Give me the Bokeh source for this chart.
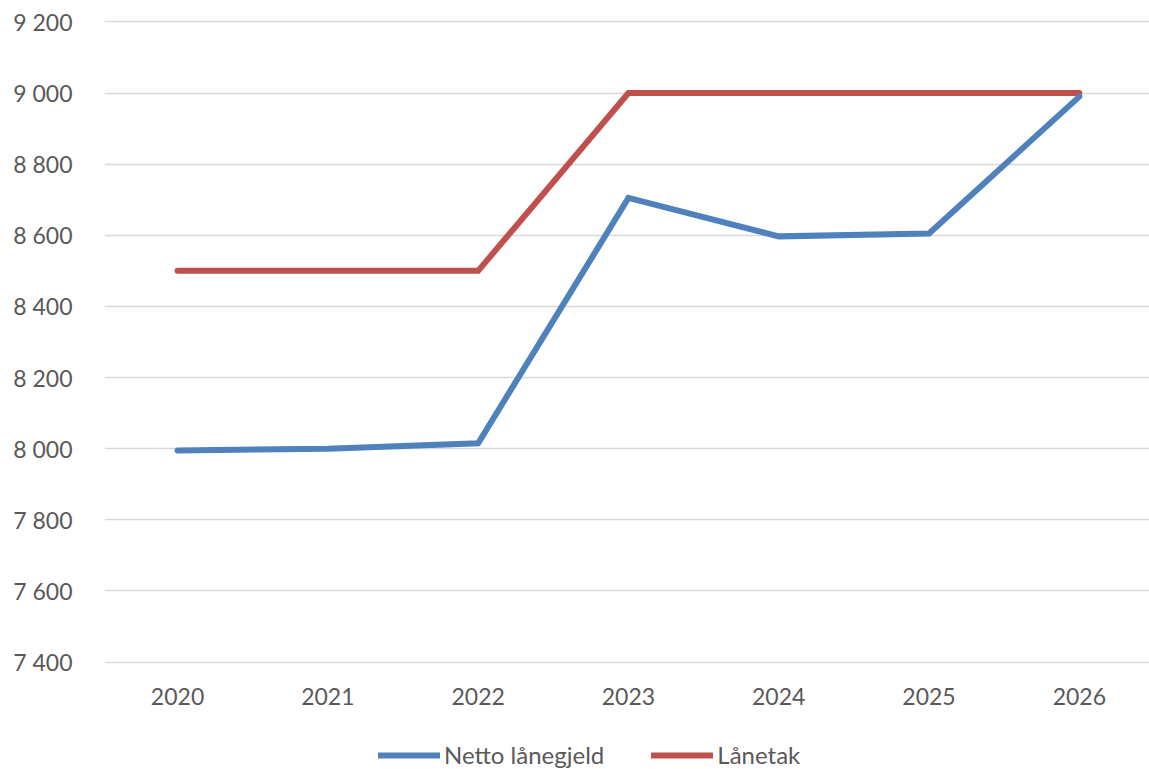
from bokeh.plotting import figure
from bokeh.layouts import column
from bokeh.models import Range1d, FixedTicker, Legend, LegendItem, ColumnDataSource
from bokeh.embed import file_html
from bokeh.resources import INLINE

# Series data
years = ["2020", "2021", "2022", "2023", "2024", "2025", "2026"]
netto_lanegjeld = [7995, 8000, 8015, 8705, 8597, 8605, 8990]
lanetak = [8500, 8500, 8500, 9000, 9000, 9000, 9000]
series_names = ["Netto lånegjeld", "Lånetak"]

# Value-axis ticks and their labels (space as thousands separator)
y_ticks = [7400, 7600, 7800, 8000, 8200, 8400, 8600, 8800, 9000, 9200]
y_tick_labels = ["7 400", "7 600", "7 800", "8 000", "8 200", "8 400", "8 600", "8 800", "9 000", "9 200"]

FONT = "Lato"
TEXT_COLOR = "#595959"
BLUE = "#4f81bd"
RED = "#c0504d"

xs = list(range(len(years)))
src = ColumnDataSource(dict(x=xs, netto=netto_lanegjeld, tak=lanetak))

p = figure(
    width=1149, height=716,
    x_range=Range1d(-0.486, 6.467), y_range=Range1d(7396, 9204),
    output_backend="svg", toolbar_location=None,
    min_border_left=104, min_border_right=0, min_border_top=20, min_border_bottom=53,
)
p.outline_line_color = None
p.background_fill_color = "white"
p.border_fill_color = "white"

# Gridlines
p.xgrid.grid_line_color = None
p.ygrid.grid_line_color = "#d9d9d9"
p.ygrid.grid_line_width = 1.5
p.ygrid.ticker = FixedTicker(ticks=y_ticks)

# Axes
p.yaxis.ticker = FixedTicker(ticks=y_ticks)
p.yaxis.major_label_overrides = {t: lab for t, lab in zip(y_ticks, y_tick_labels)}
p.xaxis.ticker = FixedTicker(ticks=xs)
p.xaxis.major_label_overrides = {i: y for i, y in zip(xs, years)}
for ax in (p.xaxis, p.yaxis):
    ax.axis_line_color = None
    ax.major_tick_line_color = None
    ax.minor_tick_line_color = None
    ax.major_tick_out = 0
    ax.major_tick_in = 0
    ax.minor_tick_out = 0
    ax.major_label_text_font = FONT
    ax.major_label_text_font_size = "23px"
    ax.major_label_text_color = TEXT_COLOR
p.yaxis.major_label_standoff = 32
p.xaxis.major_label_standoff = 24

# Lines
p.line("x", "tak", source=src, line_color=RED, line_width=6,
       line_cap="round", line_join="miter")
p.line("x", "netto", source=src, line_color=BLUE, line_width=6,
       line_cap="round", line_join="miter")

# Legend strip under the chart; its series lie outside the strip's view,
# so only the legend swatches show
leg_fig = figure(
    width=1149, height=53, x_range=Range1d(0, 1), y_range=Range1d(0, 1),
    x_axis_type=None, y_axis_type=None,
    output_backend="svg", toolbar_location=None,
    min_border=0,
)
leg_fig.outline_line_color = None
leg_fig.grid.visible = False
leg_blue = leg_fig.line("x", "netto", source=src, line_color=BLUE, line_width=6, line_cap="round")
leg_red = leg_fig.line("x", "tak", source=src, line_color=RED, line_width=6, line_cap="round")

legend = Legend(
    items=[LegendItem(label=series_names[0], renderers=[leg_blue]),
           LegendItem(label=series_names[1], renderers=[leg_red])],
    orientation="horizontal", location=(274, 0),
    label_text_font=FONT, label_text_font_size="24px", label_text_color=TEXT_COLOR,
    glyph_width=62, glyph_height=20, label_standoff=4, spacing=47,
    border_line_color=None, background_fill_alpha=0, padding=0, margin=0,
)
leg_fig.add_layout(legend, "center")

open("out.html", "w").write(file_html(column(p, leg_fig, spacing=0), INLINE))
